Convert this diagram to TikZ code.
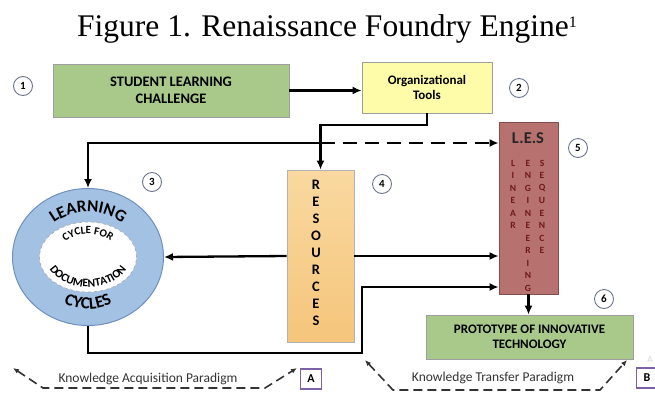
\documentclass[tikz,border=0pt]{standalone}
\usepackage{fontspec}
\setmainfont{Liberation Serif}
\newfontfamily\calib{Carlito}
\usepackage{xcolor}
\usetikzlibrary{arrows}
\usetikzlibrary{arrows.meta}
\usetikzlibrary{shapes.geometric}
\usetikzlibrary{decorations.text}

\definecolor{slcgreen}{HTML}{A9C98B}
\definecolor{toolyellow}{HTML}{FEFBA9}
\definecolor{lesred}{HTML}{B7716E}
\definecolor{lesink}{HTML}{6E1A18}
\definecolor{restop}{HTML}{F9D9A0}
\definecolor{resbot}{HTML}{F5C57B}
\definecolor{cycblue}{HTML}{A3C1E3}
\definecolor{cycedge}{HTML}{6F8FBE}
\definecolor{numedge}{HTML}{6B7488}
\definecolor{tagpurple}{HTML}{7D62A8}
\definecolor{paraink}{HTML}{333333}

\tikzset{
  box/.style={draw=gray!75, line width=0.8pt, inner sep=0pt, align=center,
    font=\calib\bfseries\fontsize{13}{15.5}\selectfont},
  num/.style={circle, draw=numedge, line width=0.9pt, minimum size=19pt, inner sep=0pt,
    font=\calib\bfseries\fontsize{11}{11}\selectfont},
  flow/.style={line width=2.3pt, arrows={-Latex[length=9pt,width=8pt]}},
  para/.style={draw=paraink, line width=1.6pt, dash pattern=on 9pt off 5pt,
    arrows={Latex[length=6pt,width=5pt]-Latex[length=6pt,width=5pt]}},
  tag/.style={draw=tagpurple, line width=1.1pt, minimum width=21pt, minimum height=20pt,
    inner sep=0pt, font=\calib\bfseries\fontsize{12}{12}\selectfont},
  lesletter/.style={inner sep=0pt, text=lesink, font=\calib\bfseries\fontsize{9.5}{9.5}\selectfont},
  resletter/.style={inner sep=0pt, font=\calib\bfseries\fontsize{14.5}{14.5}\selectfont},
  ringtext/.style={decorate, decoration={text along path, text align=center, text={#1}}},
}

\begin{document}
\begin{tikzpicture}[x=1pt,y=-1pt]
\useasboundingbox (0,0) rectangle (655,397);

\node (title) at (327,29) {\fontsize{31.5}{31.5}\selectfont Figure 1. Renaissance Foundry Engine\raisebox{9pt}{\fontsize{16}{16}\selectfont 1}};

% boxes
\node[box, fill=slcgreen, minimum width=236pt, minimum height=53pt,
  font=\calib\bfseries\fontsize{14.5}{17}\selectfont] (slc) at (171,90.5) {STUDENT LEARNING\\CHALLENGE};
\node[box, fill=toolyellow, minimum width=130pt, minimum height=51pt,
  font=\calib\bfseries\fontsize{13}{15}\selectfont] (tools) at (427,87.5) {Organizational\\Tools};
\node[box, draw=lesred!70!black, fill=lesred, minimum width=59pt, minimum height=172pt] (les) at (528.5,208) {};
\node[box, draw=gray!60, top color=restop, bottom color=resbot, minimum width=67pt, minimum height=172pt] (res) at (320.5,256) {};
\node[box, fill=slcgreen, minimum width=207pt, minimum height=44pt] (proto) at (529.5,337) {PROTOTYPE OF INNOVATIVE\\TECHNOLOGY};

% learning ring
\node[ellipse, draw=cycedge, line width=1pt, fill=cycblue, minimum width=151pt, minimum height=137pt] (cyc) at (88,257) {};
\node[ellipse, draw=gray!70, dashed, line width=0.6pt, fill=white, minimum width=97pt, minimum height=70pt] (cycin) at (88,257) {};
\path[ringtext={|\calib\bfseries\fontsize{17}{17}\selectfont|LEARNING}]
  (cyc.center) ++(195:52 and 45) arc[start angle=195, end angle=345, x radius=52, y radius=45];
\path[ringtext={|\calib\bfseries\fontsize{17}{17}\selectfont|CYCLES}]
  (cyc.center) ++(155:52 and 52) arc[start angle=155, end angle=25, x radius=52, y radius=52];
\path[ringtext={|\calib\bfseries\fontsize{11}{11}\selectfont|CYCLE FOR}]
  (cyc.center) ++(200:31 and 23) arc[start angle=200, end angle=340, x radius=31, y radius=23];
\path[ringtext={|\calib\bfseries\fontsize{11.5}{11.5}\selectfont|DOCUMENTATION}]
  (cyc.center) ++(178:42 and 30) arc[start angle=178, end angle=2, x radius=42, y radius=30];

% letters
\node[inner sep=0pt, text=black!85, font=\calib\bfseries\fontsize{16.5}{16.5}\selectfont] (lestitle) at (528,138) {L.E.S};
\foreach \ch [count=\i] in {L,I,N,E,A,R}
  \node[lesletter] (lin-\i) at (513,150.5+12.5*\i) {\ch};
\foreach \ch [count=\i] in {E,N,G,I,N,E,E,R,I,N,G}
  \node[lesletter] (eng-\i) at (528,150.5+12.5*\i) {\ch};
\foreach \ch [count=\i] in {S,E,Q,U,E,N,C,E}
  \node[lesletter] (seq-\i) at (542,150.5+12.5*\i) {\ch};
\foreach \ch [count=\i] in {R,E,S,O,U,R,C,E,S}
  \node[resletter] (res-\i) at (316,168+17*\i) {\ch};

% step numbers
\node[num] (n1) at (23,86) {1};
\node[num] (n2) at (519,88) {2};
\node[num] (n3) at (152,182) {3};
\node[num] (n4) at (382,184) {4};
\node[num] (n5) at (578,148) {5};
\node[num] (n6) at (604,299) {6};

% connectors
\coordinate (bend1) at (320.5,125);
\coordinate (jn) at (320.5,143);
\coordinate (lo1) at (362,353);
\coordinate (lo2) at (362,287);
\draw[flow] (slc.east) -- (slc.east -| tools.west);
\draw[flow] (tools.south) |- (bend1) -- (res.north);
\draw[flow] (jn) -| (cyc.north);
\draw[flow, dash pattern=on 14pt off 8pt] (jn) -- (jn -| les.west);
\draw[flow] (res.west) -- (cyc.east);
\draw[flow] (res.east) -- (res.east -| les.west);
\draw[flow] (cyc.south) |- (lo1) -- (lo2) -- (lo2 -| les.west);
\draw[flow] (les.south) -- (les.south |- proto.north);

% paradigms
\coordinate (ka1) at (13,368);
\coordinate (ka2) at (43,388);
\coordinate (ka3) at (265,388);
\coordinate (ka4) at (297,368);
\draw[para] (ka1) -- (ka2) -- (ka3) -- (ka4);
\node[text=paraink, font=\calib\fontsize{13.5}{13.5}\selectfont] (kap) at (148,379) {Knowledge Acquisition Paradigm};
\node[tag] (tagA) at (311,379) {A};
\coordinate (kt1) at (365,360);
\coordinate (kt2) at (393,390);
\coordinate (kt3) at (600,390);
\coordinate (kt4) at (627,360);
\draw[para] (kt1) -- (kt2) -- (kt3) -- (kt4);
\node[text=paraink, font=\calib\fontsize{13.5}{13.5}\selectfont] (ktp) at (493,378) {Knowledge Transfer Paradigm};
\node[tag] (tagB) at (647,378) {B};
\node[text=gray!25, font=\calib\bfseries\fontsize{9}{9}\selectfont] (ghost) at (650,360) {A};
\end{tikzpicture}
\end{document}
